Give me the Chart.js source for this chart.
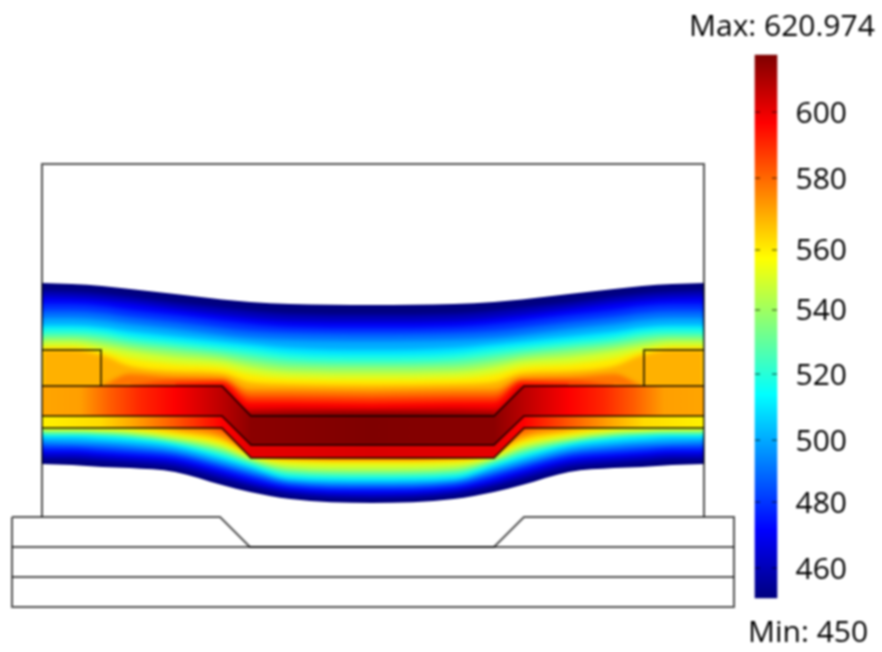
<!DOCTYPE html>
<html lang="en">
<head>
<meta charset="UTF-8">
<title>Temperature</title>
<script src="https://cdn.jsdelivr.net/npm/chart.js@4/dist/chart.umd.min.js"></script>
<style>
    html, body { margin: 0; padding: 0; background: #fff; }
    canvas { display: block; filter: blur(0.8px); }
</style>
</head>
<body>
<canvas id="chart" width="882" height="652"></canvas>
<script>
const stations = [42, 72, 102, 130, 175, 222, 250, 290, 372, 454, 494, 522, 569, 614, 642, 672, 704];

// upper edge of each isotherm
const top450 = [283, 284, 286, 289, 294, 299.5, 302, 304, 305, 304, 302, 299.5, 294, 289, 286, 284, 283];
const top460 = [291, 292, 294, 297, 303, 308, 311, 314, 315, 314, 311, 308, 303, 297, 294, 292, 291];
const top470 = [297, 298, 300, 303, 309, 315, 318, 321, 322, 321, 318, 315, 309, 303, 300, 298, 297];
const top480 = [304, 304, 306, 310, 315, 321, 324, 327, 328, 327, 324, 321, 315, 310, 306, 304, 304];
const top490 = [311, 311, 313, 317, 322, 328, 331, 333, 334, 333, 331, 328, 322, 317, 313, 311, 311];
const top500 = [318, 318, 320, 324, 329, 335, 338, 340, 341, 340, 338, 335, 329, 324, 320, 318, 318];
const top510 = [325, 325, 327, 331, 336, 341, 344, 348, 350, 348, 344, 341, 336, 331, 327, 325, 325];
const top520 = [329, 329, 331, 336, 341, 346, 349, 354, 356, 354, 349, 346, 341, 336, 331, 329, 329];
const top530 = [334, 334, 336, 341, 346, 351, 355, 360, 362, 360, 355, 351, 346, 341, 336, 334, 334];
const top540 = [338, 338, 341, 346, 351, 356, 361, 366, 367, 366, 361, 356, 351, 346, 341, 338, 338];
const top550 = [342, 342, 346, 351, 357, 361, 367, 372, 373, 372, 367, 361, 357, 351, 346, 342, 342];
const top560 = [347, 347, 351, 358, 364, 367, 374, 378, 379, 378, 374, 367, 364, 358, 351, 347, 347];
const top570 = [349.5, 349.5, 355, 366, 371, 373, 382, 384, 385, 384, 382, 373, 371, 366, 355, 349.5, 349.5];
const top580 = [null, null, 386, 374, 377, 378, 390, 390, 391, 390, 390, 378, 377, 374, 386, null, null];
const top590 = [null, null, null, 386, 381, 381, 396, 396, 397, 396, 396, 381, 381, 386, null, null, null];
const top600 = [null, null, null, null, 385, 383, 402, 402, 403, 402, 402, 383, 385, null, null, null, null];
const top610 = [null, null, null, null, null, 386, 409, 408, 409, 408, 409, 386, null, null, null, null, null];
const top620 = [null, null, null, null, null, null, 414, 413, 412, 413, 414, null, null, null, null, null, null];

// lower edge of each isotherm
const bot450 = [464, 465, 467, 468, 472, 485, 492, 499, 503, 499, 492, 485, 472, 468, 467, 465, 464];
const bot460 = [459, 459, 461, 463, 467, 479, 486, 494, 498, 494, 486, 479, 467, 463, 461, 459, 459];
const bot470 = [454, 454, 456, 458, 462, 474, 482, 490, 494, 490, 482, 474, 462, 458, 456, 454, 454];
const bot480 = [450, 450, 452, 454, 458, 470, 478, 487, 490, 487, 478, 470, 458, 454, 452, 450, 450];
const bot490 = [446, 446, 448, 450, 454, 466, 474, 484, 487, 484, 474, 466, 454, 450, 448, 446, 446];
const bot500 = [442, 443, 444, 446, 451, 463, 471, 481, 484, 481, 471, 463, 451, 446, 444, 443, 442];
const bot510 = [438, 438, 440, 442, 447, 459, 467, 479, 481, 479, 467, 459, 447, 442, 440, 438, 438];
const bot520 = [435, 435, 436, 438, 444, 456, 465, 476, 478, 476, 465, 456, 444, 438, 436, 435, 435];
const bot530 = [433, 433, 434, 436, 442, 453, 462, 473, 475, 473, 462, 453, 442, 436, 434, 433, 433];
const bot540 = [431.5, 431.5, 432, 434, 440, 450, 460, 470, 472, 470, 460, 450, 440, 434, 432, 431.5, 431.5];
const bot550 = [430, 430, 431, 432, 438, 447, 458, 467, 469, 467, 458, 447, 438, 432, 431, 430, 430];
const bot560 = [428, 428, 429, 430, 435, 444, 456, 463, 464, 463, 456, 444, 435, 430, 429, 428, 428];
const bot570 = [419, 419, 420, 426, 432, 440, 452, 459, 460, 459, 452, 440, 432, 426, 420, 419, 419];
const bot580 = [null, null, 416, 418, 428, 436, 453, 458, 459, 458, 453, 436, 428, 418, 416, null, null];
const bot590 = [null, null, null, 416, 424, 430, 450, 456, 457, 456, 450, 430, 424, 416, null, null, null];
const bot600 = [null, null, null, null, 417, 427, 448, 454, 455, 454, 448, 427, 417, null, null, null, null];
const bot610 = [null, null, null, null, null, 418, 446, 449, 450, 449, 446, 418, null, null, null, null, null];
const bot620 = [null, null, null, null, null, null, 444, 445, 446, 445, 444, null, null, null, null, null, null];

const levels = [450, 460, 470, 480, 490, 500, 510, 520, 530, 540, 550, 560, 570, 580, 590, 600, 610, 620];
const levelTops = [top450, top460, top470, top480, top490, top500, top510, top520, top530, top540, top550, top560, top570, top580, top590, top600, top610, top620];
const levelBots = [bot450, bot460, bot470, bot480, bot490, bot500, bot510, bot520, bot530, bot540, bot550, bot560, bot570, bot580, bot590, bot600, bot610, bot620];

// temperature read along the two metal layers, they change from side to side
const upperLayerX = [42, 80, 110, 140, 175, 222, 251, 372, 494, 524, 569, 604, 634, 664, 704];
const upperLayerT = [572, 573, 584, 593, 600, 611, 619, 621, 619, 611, 600, 593, 584, 573, 572];
const lowerLayerX = [42, 100, 130, 175, 222, 251, 372, 494, 524, 569, 614, 644, 704];
const lowerLayerT = [559, 563, 571, 585, 600, 604, 606, 604, 600, 585, 571, 563, 559];

// section outlines
const frameX = [42, 42, 704, 704];
const frameY = [517, 164, 164, 517];
const padLeftX = [42, 101, 101];
const padRightX = [704, 644, 644];
const padY = [350, 350, 386];
const layerX = [42, 222, 251, 494, 524, 704];
const layer1Y = [386, 386, 416, 416, 386, 386];
const layer2Y = [416, 416, 445, 445, 416, 416];
const layer3Y = [428, 428, 458, 458, 428, 428];
const baseX = [12, 220, 250, 494, 524, 734, 734, 12, 12];
const baseY = [517, 517, 547, 547, 517, 517, 607, 607, 517];
const baseLine1X = [12, 734];
const baseLine1Y = [547, 547];
const baseLine2Y = [577, 577];

// colour bar, the labels sit a little below their dashes
const barRange = [450, 620.974];
const barTickLabels = ['460', '480', '500', '520', '540', '560', '580', '600'];
const barTickValues = [458.8, 479.6, 499.1, 519.9, 540.1, 559.0, 581.6, 602.4];
const barDashValues = [459.4, 480.2, 499.7, 520.5, 540.7, 559.6, 582.2, 603.0];

const jetTemps = [450, 471.4, 514.1, 556.9, 599.6, 621];
const jetColors = [[0, 0, 127], [0, 0, 255], [0, 255, 255], [255, 255, 0], [255, 0, 0], [127, 0, 0]];

function jet(t) {
    let i = 0;
    while (i < jetTemps.length - 2 && t > jetTemps[i + 1]) i++;
    const f = Math.min(1, Math.max(0, (t - jetTemps[i]) / (jetTemps[i + 1] - jetTemps[i])));
    const c = jetColors[i].map((v, k) => Math.round(v + (jetColors[i + 1][k] - v) * f));
    return `rgb(${c[0]},${c[1]},${c[2]})`;
}

function points(xs, ys) {
    return xs.map((x, i) => ({ x: x, y: ys[i] }));
}

function outline(xs, ys) {
    return {
        data: points(xs, ys),
        borderColor: 'rgba(0,0,0,0.68)',
        borderWidth: 2,
        pointRadius: 0,
        fill: false,
        order: 5
    };
}

function barGradient(context) {
    const chart = context.chart;
    const scale = chart.scales.y2;
    const from = scale ? scale.getPixelForValue(barRange[0]) : NaN;
    const to = scale ? scale.getPixelForValue(barRange[1]) : NaN;
    if (!Number.isFinite(from) || !Number.isFinite(to)) return '#888';
    const g = chart.ctx.createLinearGradient(0, from, 0, to);
    jetTemps.forEach(t => {
        const stop = Math.min(1, (t - barRange[0]) / (barRange[1] - barRange[0]));
        g.addColorStop(stop, jet(t));
    });
    return g;
}

function layerGradient(xs, ts) {
    return function (context) {
        const chart = context.chart;
        const scale = chart.scales.x;
        const from = scale ? scale.getPixelForValue(xs[0]) : NaN;
        const to = scale ? scale.getPixelForValue(xs[xs.length - 1]) : NaN;
        if (!Number.isFinite(from) || !Number.isFinite(to)) return jet(ts[0]);
        const g = chart.ctx.createLinearGradient(from, 0, to, 0);
        xs.forEach((x, i) => g.addColorStop((x - xs[0]) / (xs[xs.length - 1] - xs[0]), jet(ts[i])));
        return g;
    };
}

const datasets = [];

// isotherm bands, each one painted over the cooler one before it
levels.forEach((t, i) => {
    const last = i === levels.length - 1;
    datasets.push({
        data: points(stations, levelBots[i]),
        fill: datasets.length + 1,
        backgroundColor: jet(t),
        borderWidth: 0,
        pointRadius: 0,
        cubicInterpolationMode: 'monotone',
        filterAfter: 'blur(2px)',
        order: 200 - 2 * i
    });
    datasets.push({
        data: points(stations, levelTops[i]),
        fill: false,
        borderWidth: 0,
        pointRadius: 0,
        cubicInterpolationMode: 'monotone',
        filterAfter: last ? 'none' : 'blur(2px)',
        order: 199 - 2 * i
    });
});

function layerBand(upperY, lowerY, xs, ts, order) {
    datasets.push({
        data: points(layerX, lowerY),
        fill: datasets.length + 1,
        backgroundColor: layerGradient(xs, ts),
        borderWidth: 0,
        pointRadius: 0,
        order: order
    });
    datasets.push({
        data: points(layerX, upperY),
        fill: false,
        borderWidth: 0,
        pointRadius: 0,
        order: order - 1
    });
}
layerBand(layer1Y, layer2Y, upperLayerX, upperLayerT, 30);
layerBand(layer2Y, layer3Y, lowerLayerX, lowerLayerT, 28);

datasets.push(outline(frameX, frameY));
datasets.push(outline(padLeftX, padY));
datasets.push(outline(padRightX, padY));
datasets.push(outline(layerX, layer1Y));
datasets.push(outline(layerX, layer2Y));
datasets.push(outline(layerX, layer3Y));
datasets.push(outline(baseX, baseY));
datasets.push(outline(baseLine1X, baseLine1Y));
datasets.push(outline(baseLine1X, baseLine2Y));

datasets.push({
    type: 'bar',
    data: [{ x: 766, y: barRange }],
    yAxisID: 'y2',
    barThickness: 22,
    backgroundColor: barGradient,
    order: 4
});

// little dashes on both edges of the colour bar
[757.5, 774.5].forEach(x => {
    datasets.push({
        data: barDashValues.map(v => ({ x: x, y: v })),
        yAxisID: 'y2',
        showLine: false,
        pointStyle: 'line',
        pointRadius: 2.5,
        pointBorderWidth: 1.5,
        pointBorderColor: 'rgba(0,0,0,0.5)',
        order: 3
    });
});

const bandFilter = {
    id: 'bandFilter',
    afterDatasetDraw(chart, args) {
        chart.ctx.filter = chart.data.datasets[args.index].filterAfter || 'none';
    }
};

const barCaptions = {
    id: 'barCaptions',
    afterDraw(chart) {
        const ctx = chart.ctx;
        ctx.save();
        ctx.font = '30px "Open Sans"';
        ctx.fillStyle = '#000';
        ctx.textBaseline = 'middle';
        ctx.fillText('Max: 620.974', 689, 27);
        ctx.fillText('Min: 450', 748, 633);
        ctx.restore();
    }
};

const chart = new Chart(document.getElementById('chart'), {
    type: 'line',
    data: { datasets: datasets },
    plugins: [bandFilter, barCaptions],
    options: {
        responsive: false,
        animation: false,
        layout: { padding: 0, autoPadding: false },
        plugins: { legend: { display: false }, tooltip: { enabled: false } },
        elements: { line: { tension: 0 } },
        scales: {
            x: { type: 'linear', min: 0, max: 882, display: false, offset: false },
            y: { type: 'linear', min: 0, max: 652, reverse: true, display: false },
            y2: {
                type: 'linear',
                min: 433,
                max: 638.3,
                position: { x: 847 },
                grid: { display: false, drawTicks: false },
                border: { display: false },
                afterBuildTicks(axis) {
                    axis.ticks = barTickValues.map(v => ({ value: v }));
                },
                // the axis sits inside the plot, it must not take room from it
                afterFit(axis) {
                    axis.width = 0;
                    axis.paddingTop = axis.paddingBottom = axis.paddingLeft = axis.paddingRight = 0;
                },
                ticks: {
                    padding: 0,
                    color: '#000',
                    font: { family: '"Open Sans"', size: 30 },
                    autoSkip: false,
                    callback: (v, i) => barTickLabels[i]
                }
            }
        }
    }
});
</script>
</body>
</html>
